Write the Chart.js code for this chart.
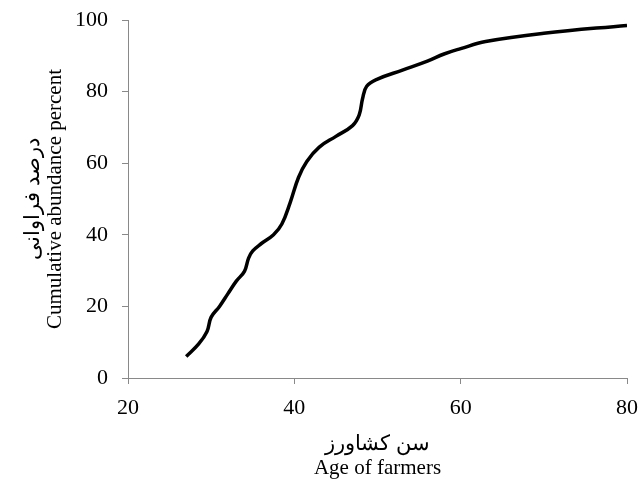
<!DOCTYPE html>
<html>
<head>
<meta charset="utf-8">
<script src="https://cdn.jsdelivr.net/npm/chart.js@4"></script>
<style>
    body { margin: 0; background: #ffffff; }
    #wrap { width: 641px; height: 488px; }
</style>
</head>
<body>
<div id="wrap"><canvas id="ageChart"></canvas></div>
<script>
const ages = [27, 28.5, 29.5, 30, 31, 32, 33, 34, 34.5, 35, 36, 37.5, 38.5, 39.5, 40.5, 41.5, 43, 45, 47, 47.8, 48.2, 48.7, 50, 53, 56, 58, 60, 63, 70, 80];
const percents = [6, 9.5, 13, 17, 20, 23.5, 27, 29.8, 33.5, 35.5, 37.5, 40, 43, 49, 56, 60.5, 64.5, 67.5, 70.5, 73.5, 78, 81.5, 83.5, 86, 88.5, 90.5, 92, 94, 96.3, 98.5];
const xTitle = ['سن کشاورز', 'Age of farmers'];
const yTitle = ['درصد فراوانی', 'Cumulative abundance percent'];

document.addEventListener('DOMContentLoaded', function () {
    const axisColor = '#898989';
    const serif = "'Liberation Serif', 'Times New Roman', serif";

    const points = ages.map(function (age, i) {
        return { x: age, y: percents[i] };
    });

    function axisGrid() {
        return {
            display: true,
            drawOnChartArea: false,
            drawTicks: true,
            tickLength: 6,
            color: axisColor,
            lineWidth: 1
        };
    }

    new Chart(document.getElementById('ageChart').getContext('2d'), {
        type: 'scatter',
        data: {
            datasets: [{
                data: points,
                showLine: true,
                borderColor: '#000000',
                borderWidth: 3.5,
                tension: 0.4,
                pointRadius: 0,
                fill: false
            }]
        },
        options: {
            responsive: true,
            maintainAspectRatio: false,
            animation: false,
            layout: { padding: { top: 20, right: 14, left: 0, bottom: 0 } },
            scales: {
                x: {
                    type: 'linear',
                    min: 20,
                    max: 80,
                    afterFit: function (scale) {
                        scale.height = 110;
                        scale.paddingLeft = 0;
                        scale.paddingRight = 0;
                    },
                    grid: axisGrid(),
                    border: { display: true, color: axisColor, width: 1 },
                    ticks: {
                        stepSize: 20,
                        padding: 11,
                        color: '#000000',
                        font: { family: serif, size: 22 }
                    },
                    title: {
                        display: true,
                        text: xTitle,
                        color: '#000000',
                        font: { family: serif, size: 21, lineHeight: 1.15 },
                        padding: { top: 0, bottom: 7 }
                    }
                },
                y: {
                    min: 0,
                    max: 100,
                    afterFit: function (scale) {
                        scale.width = 128;
                        scale.paddingTop = 0;
                        scale.paddingBottom = 0;
                    },
                    grid: axisGrid(),
                    border: { display: true, color: axisColor, width: 1 },
                    ticks: {
                        stepSize: 20,
                        padding: 14,
                        color: '#000000',
                        font: { family: serif, size: 22 }
                    },
                    title: {
                        display: true,
                        text: yTitle,
                        color: '#000000',
                        font: { family: serif, size: 21, lineHeight: 1.05 },
                        padding: { top: 22, bottom: 0 }
                    }
                }
            },
            plugins: {
                legend: { display: false },
                tooltip: { enabled: false }
            }
        }
    });
});
</script>
</body>
</html>
